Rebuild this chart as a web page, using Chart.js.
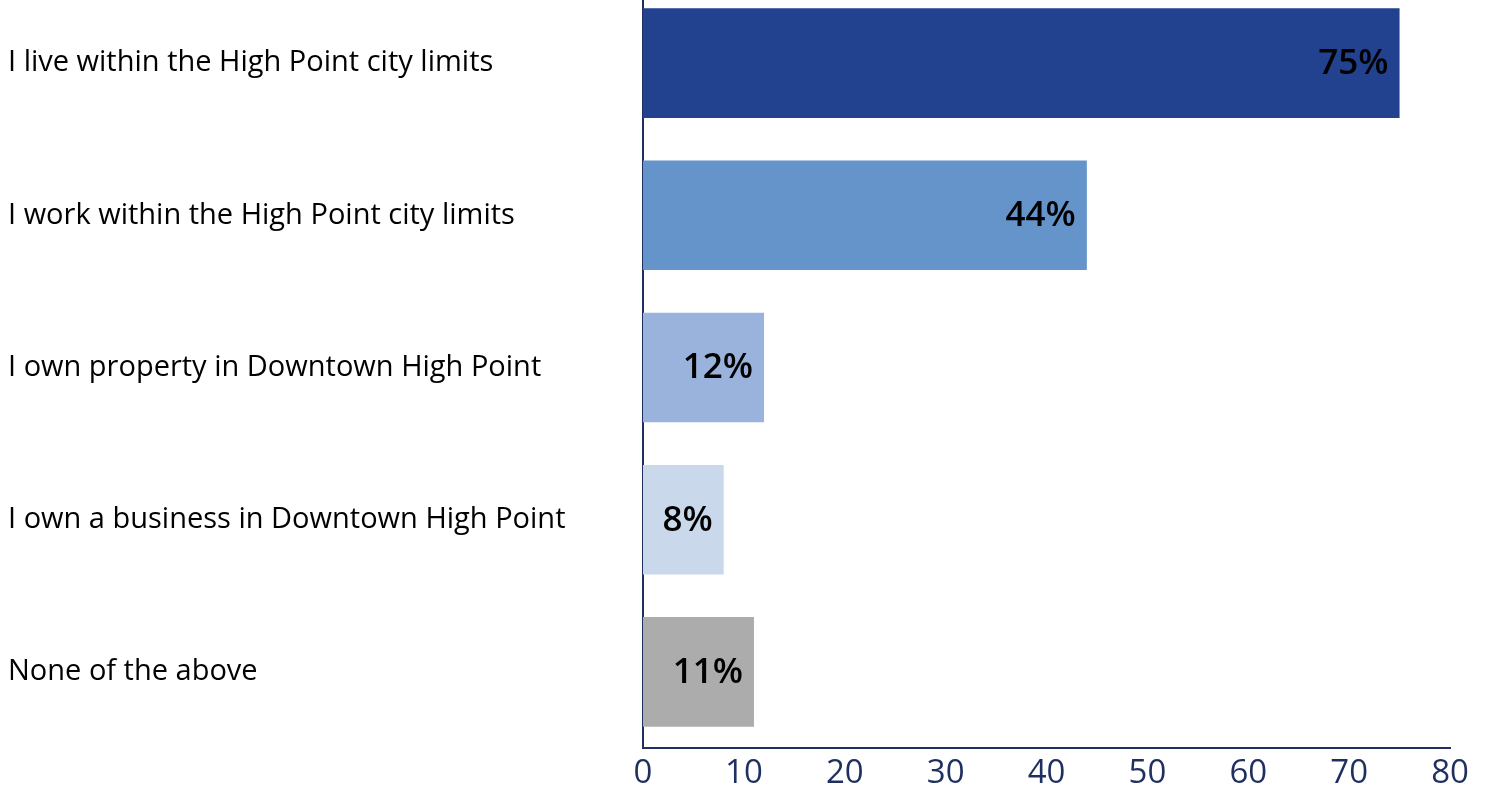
<!DOCTYPE html>
<html>
<head>
<meta charset="utf-8">
<script src="https://cdn.jsdelivr.net/npm/chart.js@4.4.1/dist/chart.umd.min.js"></script>
<style>
  html, body { margin: 0; padding: 0; background: #ffffff; overflow: hidden; }
  #wrap { position: absolute; left: 0; top: -13px; width: 1489px; height: 808px; }
</style>
</head>
<body>
<div id="wrap"><canvas id="chart"></canvas></div>
<script>
// Survey responses: share of respondents (%)
const categories = [
  "I live within the High Point city limits",
  "I work within the High Point city limits",
  "I own property in Downtown High Point",
  "I own a business in Downtown High Point",
  "None of the above"
];
const values = [75, 44, 12, 8, 11];
const valueLabels = ["75%", "44%", "12%", "8%", "11%"];
const barColors = ["#22428f", "#6594cb", "#99b3dc", "#c9d8eb", "#acacac"];
const xTicks = [0, 10, 20, 30, 40, 50, 60, 70, 80];

const FONT = "'Open Sans', 'Noto Sans', sans-serif";
const NAVY = "#1f2f5f";

// Draws each bar's percentage inside the bar, right-aligned near its end
const barValueLabels = {
  id: "barValueLabels",
  afterDatasetsDraw(chart) {
    const ctx = chart.ctx;
    const meta = chart.getDatasetMeta(0);
    ctx.save();
    ctx.font = "600 35px " + FONT;
    ctx.fillStyle = "#000000";
    ctx.textAlign = "right";
    ctx.textBaseline = "middle";
    meta.data.forEach((bar, i) => {
      ctx.fillText(valueLabels[i], bar.x - 11, bar.y + 1);
    });
    ctx.restore();
  }
};

new Chart(document.getElementById("chart"), {
  type: "bar",
  data: {
    labels: categories,
    datasets: [{
      data: values,
      backgroundColor: barColors,
      borderWidth: 0,
      barPercentage: 0.72,
      categoryPercentage: 1.0
    }]
  },
  options: {
    indexAxis: "y",
    responsive: true,
    maintainAspectRatio: false,
    animation: false,
    layout: { padding: { left: 8, right: 39, top: 0, bottom: 0 } },
    plugins: {
      legend: { display: false },
      tooltip: { enabled: false }
    },
    scales: {
      x: {
        min: 0,
        max: 80,
        afterBuildTicks(scale) {
          scale.ticks = xTicks.map(v => ({ value: v }));
        },
        afterFit(scale) { scale.height = 47; },
        grid: { display: false, drawTicks: false },
        border: { display: true, color: NAVY, width: 2 },
        ticks: {
          color: NAVY,
          padding: 6,
          font: { family: FONT, size: 33 }
        }
      },
      y: {
        afterFit(scale) {
          scale.width = 635;
          scale.paddingTop = 0;
          scale.paddingBottom = 0;
        },
        grid: { display: false, drawTicks: false },
        border: { display: true, color: NAVY, width: 2 },
        ticks: {
          color: "#000000",
          crossAlign: "far",
          padding: 0,
          font: { family: FONT, size: 29 }
        }
      }
    }
  },
  plugins: [barValueLabels]
});
</script>
</body>
</html>
